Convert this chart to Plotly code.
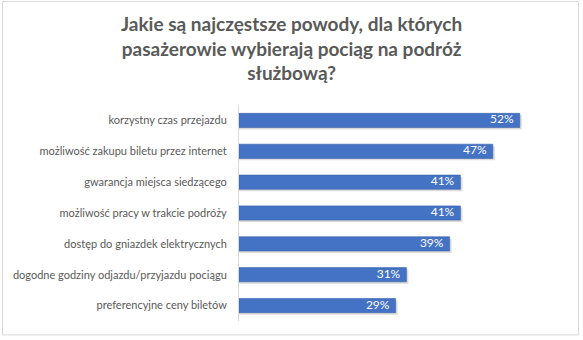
import plotly.graph_objects as go

categories = [
    "korzystny czas przejazdu",
    "możliwość zakupu biletu przez internet",
    "gwarancja miejsca siedzącego",
    "możliwość pracy w trakcie podróży",
    "dostęp do gniazdek elektrycznych",
    "dogodne godziny odjazdu/przyjazdu pociągu",
    "preferencyjne ceny biletów",
]
values = [52, 47, 41, 41, 39, 31, 29]
title_text = "Jakie są najczęstsze powody, dla których<br>pasażerowie wybierają pociąg na podróż<br>służbową?"

W, H = 583, 340
L, R, T, B = 239, 20, 104.5, 18.5
pw, ph = W - L - R, H - T - B
XMAX = 60
BAR_W = 0.46

fig = go.Figure()
# soft drop shadow (offset ~2px right / down)
fig.add_trace(go.Bar(
    x=[v + 2 * XMAX / pw for v in values], y=categories, orientation="h",
    marker=dict(color="rgba(0,0,0,0.14)", line=dict(width=0)),
    width=BAR_W, offset=-BAR_W / 2 + 2 * len(categories) / ph,
    hoverinfo="skip",
))
fig.add_trace(go.Bar(
    x=values, y=categories, orientation="h",
    marker=dict(color="#4472C4", line=dict(color="#3a62ad", width=0.6)),
    width=BAR_W, offset=-BAR_W / 2, hoverinfo="skip",
))
fig.add_trace(go.Scatter(
    x=values, y=categories, mode="text",
    text=[f"{v}%\u00a0\u00a0" for v in values],
    textposition="middle left",
    textfont=dict(color="white", size=12, family="Lato"),
    cliponaxis=False, hoverinfo="skip",
))

def px2x(p):
    return (p - L) / pw

def py2y(p):
    return (H - B - p) / ph

fig.add_shape(type="rect", xref="paper", yref="paper",
              x0=px2x(2.5), x1=px2x(578.5), y0=py2y(335.5), y1=py2y(0.5),
              line=dict(color="#d9d9d9", width=1), fillcolor="rgba(0,0,0,0)", layer="below")

fig.add_annotation(text=title_text, xref="paper", yref="paper",
                   x=px2x(291), y=py2y(47), xanchor="center", yanchor="middle",
                   showarrow=False, align="center",
                   font=dict(family="Lato", size=19, color="#595959", weight="bold"))

fig.update_layout(
    width=W, height=H,
    margin=dict(l=L, r=R, t=T, b=B, autoexpand=False),
    paper_bgcolor="white", plot_bgcolor="white",
    showlegend=False, barmode="overlay",
    xaxis=dict(range=[0, XMAX], visible=False),
    yaxis=dict(autorange="reversed", showline=True, linecolor="#d9d9d9", linewidth=1,
               ticks="outside", ticklen=9, tickcolor="rgba(0,0,0,0)",
               tickfont=dict(family="Lato", size=11, color="#595959"),
               showgrid=False),
)

fig.write_html("out.html")
